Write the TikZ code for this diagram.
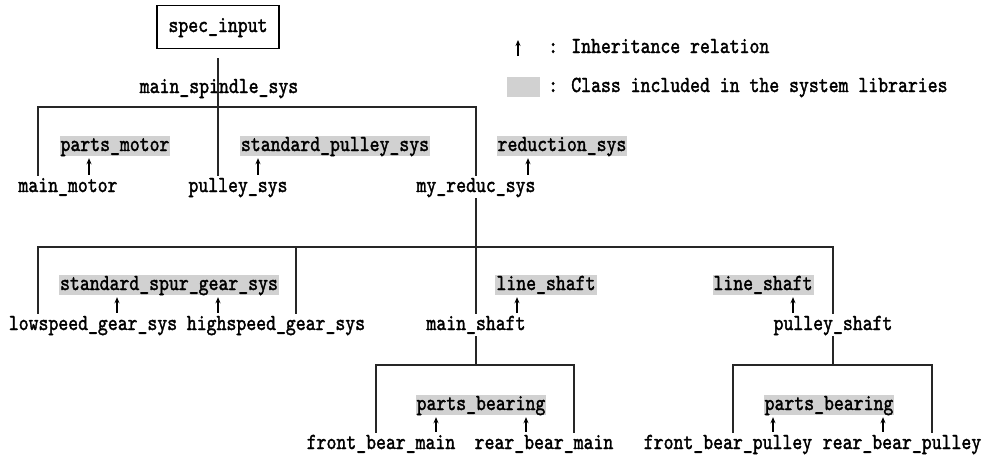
\documentclass[tikz,border=0pt]{standalone}
\usepackage{fontspec}
\usetikzlibrary{arrows.meta}
% serif monospace, narrowed so ten characters take about 99pt
\newfontfamily\codefont{lmmono10-regular.otf}[FakeStretch=0.82,FakeBold=1.6]
\definecolor{libfill}{gray}{0.82}
\begin{document}
\begin{tikzpicture}[x=1pt,y=-1pt,
  cls/.style={font=\codefont\fontsize{23}{26}\selectfont, inner sep=2pt,
              text height=14pt, text depth=4pt},
  lib/.style={cls, fill=libfill, inner sep=1pt},
  conn/.style={line width=1.3pt, draw=black!85},
  inh/.style={line width=1.1pt, -{Stealth[length=6pt,width=5pt]},
              shorten <=1pt, shorten >=2pt},
  topbox/.style={cls, draw, line width=1.8pt, minimum width=122pt, minimum height=43pt}]
\useasboundingbox (0,0) rectangle (985,459);

% root of the specification
\node[topbox] (spec) at (218,27) {spec\_input};
\node[cls] (mss) at (219,88) {main\_spindle\_sys};

% level 1
\node[lib] (pmotor) at (115,146) {parts\_motor};
\node[lib] (spulley) at (335,146) {standard\_pulley\_sys};
\node[lib] (redsys) at (562,146) {reduction\_sys};
\node[cls] (mmotor) at (68,187) {main\_motor};
\node[cls] (psys) at (238,187) {pulley\_sys};
\node[cls] (myred) at (476,187) {my\_reduc\_sys};

% level 2
\node[lib] (spur) at (169,285) {standard\_spur\_gear\_sys};
\node[lib] (lshaftA) at (546,285) {line\_shaft};
\node[lib] (lshaftB) at (763,285) {line\_shaft};
\node[cls] (lowg) at (93,325) {lowspeed\_gear\_sys};
\node[cls] (highg) at (276,325) {highspeed\_gear\_sys};
\node[cls] (mshaft) at (476,325) {main\_shaft};
\node[cls] (pshaft) at (833,325) {pulley\_shaft};

% level 3
\node[lib] (bearA) at (481,405) {parts\_bearing};
\node[lib] (bearB) at (829,405) {parts\_bearing};
\node[cls] (fbm) at (381,444) {front\_bear\_main};
\node[cls] (rbm) at (544,444) {rear\_bear\_main};
\node[cls] (fbp) at (728,444) {front\_bear\_pulley};
\node[cls] (rbp) at (902,444) {rear\_bear\_pulley};

% bus corners
\coordinate (aL) at (38,107);
\coordinate (bL) at (38,247);
\coordinate (bH) at (296,247);
\coordinate (cL) at (376,365);
\coordinate (cR) at (574,365);
\coordinate (dL) at (733,365);
\coordinate (dR) at (932,365);

% composition lines
\draw[conn, shorten <=9pt] (spec.south) -- (spec.south |- psys.north);
\draw[conn] (aL |- mmotor.north) -- (aL) -- (aL -| myred) -- (myred.north);
\draw[conn] (myred.south) -- (mshaft.north);
\draw[conn] (bL |- lowg.north) -- (bL) -| (pshaft.north);
\draw[conn] (bH) -- (bH |- highg.north);
\draw[conn] (mshaft.south) -- (mshaft.south |- cL);
\draw[conn] (cL |- fbm.north) -- (cL) -- (cR) -- (cR |- rbm.north);
\draw[conn] (pshaft.south) -- (pshaft.south |- dL);
\draw[conn] (dL |- fbp.north) -- (dL) -- (dR) -- (dR |- rbp.north);

% inheritance arrows
\draw[inh] ([xshift=21pt]mmotor.north) -- ([xshift=21pt]mmotor.north |- pmotor.south);
\draw[inh] ([xshift=20pt]psys.north) -- ([xshift=20pt]psys.north |- spulley.south);
\draw[inh] ([xshift=52pt]myred.north) -- ([xshift=52pt]myred.north |- redsys.south);
\draw[inh] ([xshift=24pt]lowg.north) -- ([xshift=24pt]lowg.north |- spur.south);
\draw[inh] ([xshift=-58pt]highg.north) -- ([xshift=-58pt]highg.north |- spur.south);
\draw[inh] ([xshift=41pt]mshaft.north) -- ([xshift=41pt]mshaft.north |- lshaftA.south);
\draw[inh] ([xshift=-40pt]pshaft.north) -- ([xshift=-40pt]pshaft.north |- lshaftB.south);
\draw[inh] ([xshift=55pt]fbm.north) -- ([xshift=55pt]fbm.north |- bearA.south);
\draw[inh] ([xshift=-18pt]rbm.north) -- ([xshift=-18pt]rbm.north |- bearA.south);
\draw[inh] ([xshift=45pt]fbp.north) -- ([xshift=45pt]fbp.north |- bearB.south);
\draw[inh] ([xshift=-19pt]rbp.north) -- ([xshift=-19pt]rbp.north |- bearB.south);

% legend
\coordinate (lgA) at (518,56);
\coordinate (lgB) at (518,40);
\draw[inh, shorten <=0pt, shorten >=0pt] (lgA) -- (lgB);
\node[cls, anchor=west, inner sep=0pt] (lgInh) at (548,48) {: Inheritance relation};
\node[fill=libfill, minimum width=33pt, minimum height=20pt, inner sep=0pt] (lgSw) at (523,87) {};
\node[cls, anchor=west, inner sep=0pt] (lgLib) at (548,87) {: Class included in the system libraries};
\end{tikzpicture}
\end{document}
